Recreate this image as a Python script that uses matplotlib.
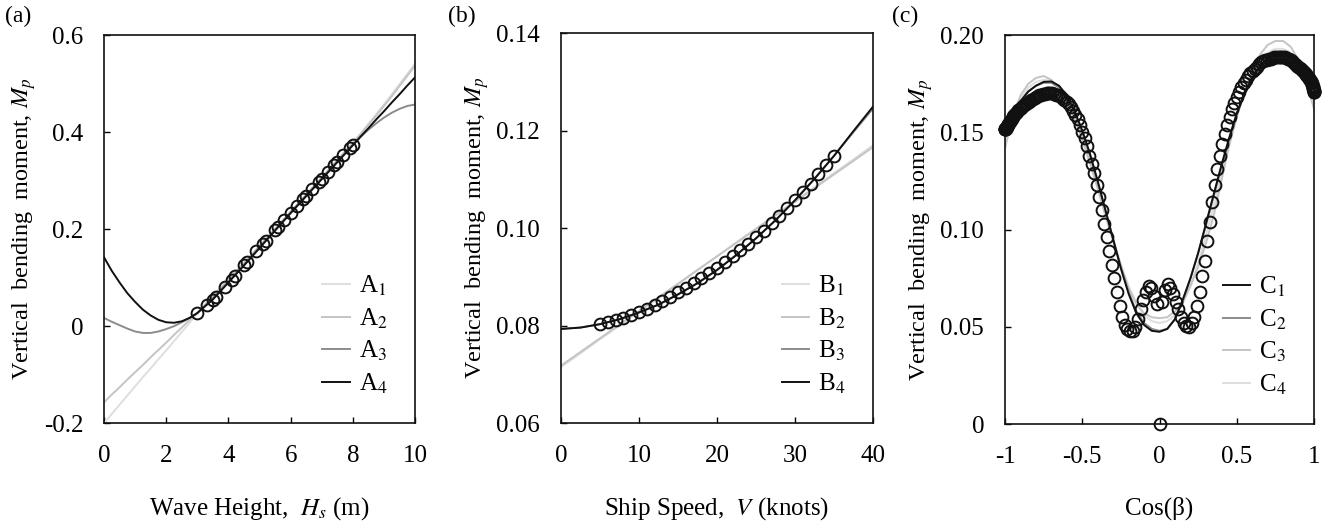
import numpy as np
import matplotlib
matplotlib.use("Agg")
import matplotlib.pyplot as plt

plt.rcParams['font.family'] = ['Liberation Serif', 'DejaVu Serif']
plt.rcParams['mathtext.fontset'] = 'stix'
plt.rcParams['font.size'] = 18

# ---------------- panel (a): wave height ----------------
hs_pts = [3.0, 3.3, 3.5, 3.6, 3.9, 4.1, 4.2, 4.5, 4.6, 4.9, 5.1, 5.2, 5.5, 5.6,
          5.8, 6.0, 6.2, 6.4, 6.5, 6.7, 6.9, 7.0, 7.2, 7.4, 7.5, 7.7, 7.9, 8.0]
mp_a_pts = [0.027, 0.043, 0.053, 0.060, 0.080, 0.096, 0.104, 0.126, 0.133, 0.154,
            0.169, 0.176, 0.198, 0.205, 0.219, 0.234, 0.248, 0.262, 0.269, 0.283,
            0.297, 0.304, 0.318, 0.332, 0.339, 0.353, 0.367, 0.374]

hs_fit = [0, 0.25, 0.5, 0.75, 1, 1.25, 1.5, 1.75, 2, 2.25, 2.5, 2.75, 3,
          3.5, 4, 4.5, 5, 5.5, 6, 6.5, 7, 7.5, 8, 8.25, 8.5, 8.75, 9, 9.25, 9.5, 9.75, 10]
a1 = [-0.200, -0.181, -0.162, -0.143, -0.124, -0.105, -0.087, -0.068, -0.050, -0.031,
      -0.012, 0.007, 0.026, 0.061, 0.096, 0.131, 0.166, 0.201, 0.236, 0.271, 0.306,
      0.342, 0.378, 0.397, 0.417, 0.437, 0.457, 0.478, 0.499, 0.520, 0.542]
a2 = [-0.157, -0.141, -0.126, -0.110, -0.095, -0.080, -0.064, -0.049, -0.034, -0.018,
      -0.003, 0.013, 0.028, 0.062, 0.096, 0.130, 0.165, 0.200, 0.235, 0.270, 0.306,
      0.342, 0.378, 0.396, 0.415, 0.434, 0.454, 0.474, 0.495, 0.516, 0.537]
a3 = [0.017, 0.009, 0.002, -0.005, -0.011, -0.014, -0.014, -0.011, -0.006, 0.000,
      0.008, 0.017, 0.027, 0.058, 0.092, 0.127, 0.163, 0.199, 0.235, 0.270, 0.305,
      0.340, 0.374, 0.390, 0.405, 0.418, 0.430, 0.440, 0.448, 0.454, 0.457]
a4 = [0.142, 0.114, 0.090, 0.068, 0.050, 0.034, 0.022, 0.013, 0.008, 0.007,
      0.010, 0.017, 0.027, 0.055, 0.090, 0.125, 0.161, 0.197, 0.233, 0.268, 0.303,
      0.338, 0.373, 0.391, 0.408, 0.426, 0.443, 0.461, 0.478, 0.496, 0.513]

# ---------------- panel (b): ship speed ----------------
v_pts = list(range(5, 36))
mp_b_pts = [0.0803, 0.0807, 0.0811, 0.0816, 0.0822, 0.0828, 0.0835, 0.0843, 0.0851, 0.0859,
            0.0868, 0.0877, 0.0887, 0.0897, 0.0908, 0.0919, 0.0931, 0.0943, 0.0955, 0.0968,
            0.0981, 0.0995, 0.1010, 0.1025, 0.1041, 0.1057, 0.1074, 0.1091, 0.1110, 0.1129,
            0.1148]

v_fit = np.linspace(0, 40, 17)
b1 = [0.0715, 0.0743, 0.0772, 0.0800, 0.0829, 0.0857, 0.0885, 0.0914, 0.0942,
      0.0971, 0.0999, 0.1027, 0.1056, 0.1084, 0.1113, 0.1141, 0.1170]
b2 = [0.0718, 0.0746, 0.0774, 0.0802, 0.0830, 0.0858, 0.0886, 0.0914, 0.0942,
      0.0970, 0.0998, 0.1026, 0.1054, 0.1082, 0.1110, 0.1138, 0.1166]
b3 = [0.0794, 0.0796, 0.0803, 0.0813, 0.0827, 0.0843, 0.0864, 0.0887, 0.0914,
      0.0945, 0.0979, 0.1016, 0.1057, 0.1101, 0.1148, 0.1197, 0.1245]
b4 = [0.0793, 0.0796, 0.0803, 0.0813, 0.0827, 0.0843, 0.0864, 0.0887, 0.0914,
      0.0945, 0.0979, 0.1016, 0.1057, 0.1101, 0.1148, 0.1199, 0.1249]

# ---------------- panel (c): heading ----------------
beta_deg = list(range(0, 181))
mp_c_pts = [
    0.171, 0.171, 0.171, 0.1715, 0.172, 0.1725, 0.173, 0.1735, 0.174, 0.1745,
    0.1755, 0.176, 0.1765, 0.177, 0.1775, 0.178, 0.1785, 0.179, 0.1795, 0.180,
    0.1805, 0.181, 0.1815, 0.182, 0.1825, 0.183, 0.1835, 0.184, 0.1845, 0.185,
    0.186, 0.1865, 0.187, 0.1875, 0.188, 0.1885, 0.189, 0.189, 0.189, 0.189,
    0.189, 0.189, 0.1888, 0.1885, 0.188, 0.1877, 0.1873, 0.187, 0.1865, 0.186,
    0.185, 0.1838, 0.1828, 0.1818, 0.1805, 0.179, 0.1772, 0.1755, 0.1735, 0.171,
    0.168, 0.165, 0.162, 0.158, 0.154, 0.149, 0.144, 0.138, 0.131, 0.123,
    0.114, 0.104, 0.094, 0.084, 0.076, 0.068, 0.061, 0.055, 0.052, 0.050,
    0.0505, 0.052, 0.055, 0.059, 0.063, 0.067, 0.070, 0.072, 0.069, 0.063,
    0.000,
    0.062, 0.066, 0.070, 0.071, 0.068, 0.064, 0.059, 0.054, 0.050, 0.048,
    0.048, 0.049, 0.051, 0.055, 0.061, 0.068, 0.075, 0.082, 0.089, 0.096,
    0.103, 0.110, 0.117, 0.123, 0.129, 0.134, 0.138, 0.143, 0.147, 0.150,
    0.154, 0.157, 0.159, 0.161, 0.163, 0.1645, 0.1658, 0.1668, 0.1677, 0.1685,
    0.169, 0.1695, 0.170, 0.1702, 0.1703, 0.1703, 0.1702, 0.170, 0.1697, 0.1693,
    0.169, 0.1685, 0.168, 0.1675, 0.167, 0.1665, 0.166, 0.1655, 0.165, 0.1645,
    0.164, 0.1635, 0.163, 0.1625, 0.162, 0.1613, 0.1607, 0.160, 0.1595, 0.159,
    0.1583, 0.1577, 0.157, 0.1565, 0.156, 0.1555, 0.155, 0.1545, 0.154, 0.1535,
    0.153, 0.1527, 0.1525, 0.1522, 0.152, 0.152, 0.152, 0.152, 0.152, 0.152]
cos_beta = np.cos(np.radians(beta_deg))

cb_fit = np.linspace(-1, 1, 41)
c1 = [0.150, 0.160, 0.166, 0.171, 0.174, 0.176, 0.1762, 0.174, 0.169, 0.161, 0.151,
      0.139, 0.125, 0.110, 0.095, 0.080, 0.067, 0.057, 0.051, 0.048, 0.0475,
      0.049, 0.054, 0.064, 0.075, 0.088, 0.103, 0.118, 0.133, 0.147, 0.160,
      0.170, 0.178, 0.184, 0.188, 0.190, 0.190, 0.188, 0.184, 0.177, 0.168]
c2 = [0.148, 0.159, 0.166, 0.171, 0.174, 0.1755, 0.1755, 0.173, 0.168, 0.160, 0.150,
      0.138, 0.124, 0.110, 0.095, 0.081, 0.068, 0.058, 0.052, 0.049, 0.048,
      0.049, 0.054, 0.063, 0.075, 0.088, 0.102, 0.117, 0.132, 0.146, 0.159,
      0.170, 0.178, 0.184, 0.188, 0.190, 0.190, 0.188, 0.184, 0.176, 0.167]
c3 = [0.142, 0.158, 0.169, 0.175, 0.178, 0.179, 0.177, 0.173, 0.166, 0.157, 0.146,
      0.134, 0.121, 0.107, 0.094, 0.081, 0.070, 0.062, 0.057, 0.055, 0.0545,
      0.055, 0.058, 0.063, 0.071, 0.081, 0.093, 0.107, 0.125, 0.143, 0.158,
      0.171, 0.182, 0.190, 0.195, 0.197, 0.197, 0.194, 0.187, 0.176, 0.162]
c4 = [0.145, 0.158, 0.167, 0.173, 0.176, 0.177, 0.1765, 0.173, 0.167, 0.159, 0.148,
      0.136, 0.123, 0.109, 0.095, 0.082, 0.071, 0.062, 0.056, 0.053, 0.052,
      0.053, 0.056, 0.062, 0.071, 0.083, 0.097, 0.112, 0.128, 0.144, 0.158,
      0.170, 0.180, 0.187, 0.191, 0.193, 0.193, 0.191, 0.186, 0.177, 0.165]

a_yticks = [-0.2, 0, 0.2, 0.4, 0.6]
a_ylabels = ['-0.2', '0', '0.2', '0.4', '0.6']
b_yticks = [0.06, 0.08, 0.10, 0.12, 0.14]
b_ylabels = ['0.06', '0.08', '0.10', '0.12', '0.14']
c_yticks = [0, 0.05, 0.10, 0.15, 0.20]
c_ylabels = ['0', '0.05', '0.10', '0.15', '0.20']
c_xticks = [-1, -0.5, 0, 0.5, 1]
c_xlabels = ['-1', '-0.5', '0', '0.5', '1']

col_l1 = '#dedede'
col_l2 = '#c4c4c4'
col_l3 = '#8c8c8c'
col_l4 = '#111111'

fig = plt.figure(figsize=(13.44, 5.25), dpi=100)
ax_a = fig.add_axes([0.0774, 0.194, 0.2314, 0.739])
ax_b = fig.add_axes([0.4174, 0.194, 0.2321, 0.743])
ax_c = fig.add_axes([0.7478, 0.192, 0.2299, 0.741])

marker_kw = dict(marker='o', ms=8.5, mfc='none', mec='#111111', mew=1.4, ls='none',
                 zorder=5, clip_on=False)
lw = 1.4


def style(ax):
    for s in ax.spines.values():
        s.set_linewidth(1.2)
        s.set_color('#111111')
    ax.tick_params(direction='in', length=4, width=1.0, top=False, right=False,
                   labelsize=18)
    ax.tick_params(axis='x', pad=16)
    ax.tick_params(axis='y', pad=15)
    ax.legend(loc='lower right', frameon=False, fontsize=18, handlelength=1.1,
              handletextpad=0.35, labelspacing=0.33, borderaxespad=0.7)
    ax.set_ylabel(r'Vertical  bending  moment, $M_p$', fontsize=17.5, labelpad=4)


# (a)
ax_a.plot(hs_fit, a1, color=col_l1, lw=lw, label=r'A$_1$')
ax_a.plot(hs_fit, a2, color=col_l2, lw=lw, label=r'A$_2$')
ax_a.plot(hs_fit, a3, color=col_l3, lw=lw, label=r'A$_3$')
ax_a.plot(hs_fit, a4, color=col_l4, lw=lw, label=r'A$_4$')
ax_a.plot(hs_pts, mp_a_pts, **marker_kw)
ax_a.set_xlim(0, 10)
ax_a.set_ylim(-0.2, 0.6)
ax_a.set_xticks([0, 2, 4, 6, 8, 10])
ax_a.set_yticks(a_yticks)
ax_a.set_yticklabels(a_ylabels)
ax_a.set_xlabel(r'Wave Height,  $H_s$ (m)', fontsize=18, labelpad=20)
style(ax_a)

# (b)
ax_b.plot(v_fit, b1, color=col_l1, lw=lw, label=r'B$_1$')
ax_b.plot(v_fit, b2, color=col_l2, lw=lw, label=r'B$_2$')
ax_b.plot(v_fit, b3, color=col_l3, lw=lw, label=r'B$_3$')
ax_b.plot(v_fit, b4, color=col_l4, lw=lw, label=r'B$_4$')
ax_b.plot(v_pts, mp_b_pts, **marker_kw)
ax_b.set_xlim(0, 40)
ax_b.set_ylim(0.06, 0.14)
ax_b.set_xticks([0, 10, 20, 30, 40])
ax_b.set_yticks(b_yticks)
ax_b.set_yticklabels(b_ylabels)
ax_b.set_xlabel(r'Ship Speed,  $V$ (knots)', fontsize=18, labelpad=20)
style(ax_b)

# (c)
ax_c.plot(cb_fit, c4, color=col_l1, lw=lw)
ax_c.plot(cb_fit, c3, color=col_l2, lw=lw)
ax_c.plot(cb_fit, c2, color=col_l3, lw=lw)
ax_c.plot(cb_fit, c1, color=col_l4, lw=lw)
ax_c.plot(cos_beta, mp_c_pts, **marker_kw)
# legend order C1..C4
for lab, col in zip([r'C$_1$', r'C$_2$', r'C$_3$', r'C$_4$'], [col_l4, col_l3, col_l2, col_l1]):
    ax_c.plot([], [], color=col, lw=lw, label=lab)
ax_c.set_xlim(-1, 1)
ax_c.set_ylim(0, 0.20)
ax_c.set_xticks(c_xticks)
ax_c.set_xticklabels(c_xlabels)
ax_c.set_yticks(c_yticks)
ax_c.set_yticklabels(c_ylabels)
ax_c.set_xlabel('Cos(β)', fontsize=18, labelpad=20)
style(ax_c)

fig.text(0.004, 0.958, '(a)', fontsize=17)
fig.text(0.333, 0.958, '(b)', fontsize=17)
fig.text(0.664, 0.958, '(c)', fontsize=17)

fig.savefig('out.png', dpi=100)
